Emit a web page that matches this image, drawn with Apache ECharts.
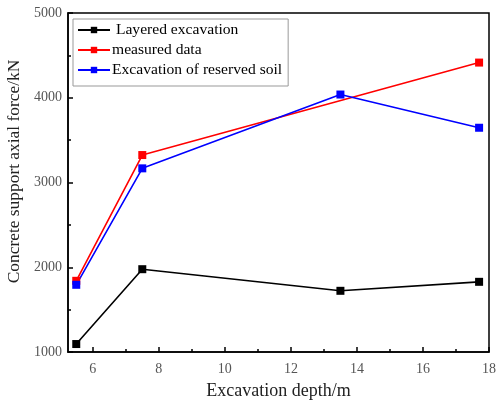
<!DOCTYPE html>
<html>
<head>
<meta charset="utf-8">
<script src="https://cdn.jsdelivr.net/npm/echarts@6/dist/echarts.min.js"></script>
<style>
html, body { margin: 0; padding: 0; background: #fff; }
#chart { width: 496px; height: 401px; }
</style>
</head>
<body>
<div id="chart"></div>
<script>
var seriesNames = [' Layered excavation', 'measured data', 'Excavation of reserved soil'];
var seriesColors = ['#000000', '#ff0000', '#0000ff'];
var layeredData = [[5.5, 1094], [7.5, 1977], [13.5, 1722], [17.7, 1828]];
var measuredData = [[5.5, 1840], [7.5, 3324], [17.7, 4415]];
var reservedData = [[5.5, 1793], [7.5, 3167], [13.5, 4038], [17.7, 3646]];
var xMajorTicks = [6, 8, 10, 12, 14, 16, 18];
var xMinorTicks = [7, 9, 11, 13, 15, 17];

var font = 'Liberation Serif';
var chart = echarts.init(document.getElementById('chart'));

function makeSeries(name, data, color) {
    return {
        name: name,
        type: 'line',
        data: data,
        symbol: 'rect',
        symbolSize: 8,
        lineStyle: { color: color, width: 1.6 },
        itemStyle: { color: color },
        emphasis: { disabled: true },
        z: 3
    };
}

var option = {
    animation: false,
    backgroundColor: '#fff',
    grid: {
        left: 68, right: 7, top: 13, bottom: 49,
        outerBoundsMode: 'none',
        containLabel: false,
        show: true, borderColor: '#000', borderWidth: 1.5
    },
    legend: {
        orient: 'vertical',
        left: 73, top: 19,
        padding: [3, 6, 8, 4],
        itemGap: 4,
        itemWidth: 32,
        itemHeight: 8,
        borderColor: '#999',
        borderWidth: 1,
        borderRadius: 0,
        backgroundColor: '#fff',
        textStyle: { fontFamily: font, fontSize: 15.6, color: '#000', padding: [0, 0, 0, -3] },
        data: seriesNames
    },
    xAxis: [{
        type: 'value',
        min: 5.25, max: 18,
        position: 'bottom',
        name: 'Excavation depth/m',
        nameLocation: 'middle',
        nameGap: 30,
        nameTextStyle: { fontFamily: font, fontSize: 18, color: '#222' },
        axisLine: { lineStyle: { color: '#000', width: 1.5 } },
        axisTick: { inside: true, length: 5, customValues: xMajorTicks, lineStyle: { color: '#000', width: 1.5 } },
        axisLabel: { customValues: xMajorTicks, fontFamily: font, fontSize: 14, color: '#555', margin: 10 },
        splitLine: { show: false }
    }, {
        type: 'value',
        min: 5.25, max: 18,
        position: 'bottom',
        axisLine: { show: false },
        axisTick: { inside: true, length: 3, customValues: xMinorTicks, lineStyle: { color: '#000', width: 1.5 } },
        axisLabel: { show: false },
        splitLine: { show: false }
    }],
    yAxis: {
        type: 'value',
        min: 1000, max: 5000, interval: 1000,
        name: 'Concrete support axial force/kN',
        nameLocation: 'middle',
        nameGap: 37,
        nameTextStyle: { fontFamily: font, fontSize: 17.4, color: '#222', padding: [0, 0, 0, 22] },
        axisLine: { show: true, lineStyle: { color: '#000', width: 1.5 } },
        axisTick: { inside: true, length: 5, lineStyle: { color: '#000', width: 1.5 } },
        minorTick: { show: true, splitNumber: 2, length: 3, lineStyle: { color: '#000', width: 1.5 } },
        axisLabel: {
            fontFamily: font, fontSize: 14, color: '#555', margin: 6,
            formatter: function (v) { return String(v); }
        },
        splitLine: { show: false }
    },
    series: [
        makeSeries(seriesNames[0], layeredData, seriesColors[0]),
        makeSeries(seriesNames[1], measuredData, seriesColors[1]),
        makeSeries(seriesNames[2], reservedData, seriesColors[2])
    ]
};

chart.setOption(option);
</script>
</body>
</html>
